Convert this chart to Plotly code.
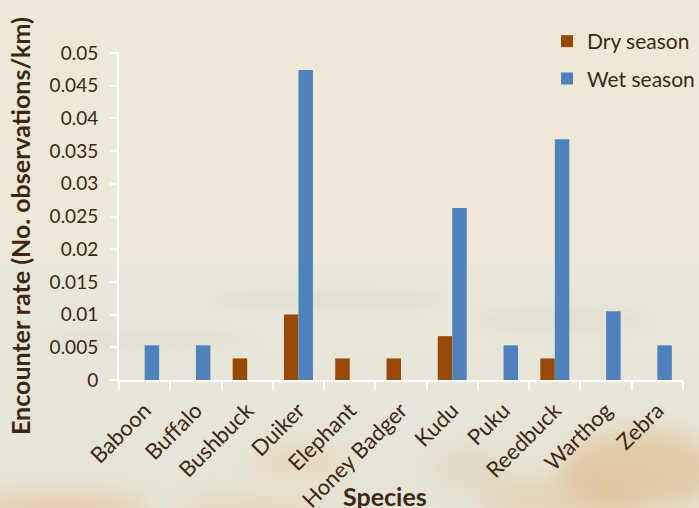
import base64
import plotly.graph_objects as go

species = ["Baboon", "Buffalo", "Bushbuck", "Duiker", "Elephant", "Honey Badger",
           "Kudu", "Puku", "Reedbuck", "Warthog", "Zebra"]
dry_season = [0, 0, 0.0033, 0.01, 0.0033, 0.0033, 0.0067, 0, 0.0033, 0, 0]
wet_season = [0.0053, 0.0053, 0, 0.0474, 0, 0, 0.0263, 0.0053, 0.0368, 0.0105, 0.0053]
y_ticks = [0, 0.005, 0.01, 0.015, 0.02, 0.025, 0.03, 0.035, 0.04, 0.045, 0.05]
y_tick_text = ["0", "0.005", "0.01", "0.015", "0.02", "0.025", "0.03", "0.035",
               "0.04", "0.045", "0.05"]

W, H = 699, 508
ML, MR, MT, MB = 119, 16, 53, 128
PW, PH = W - ML - MR, H - MT - MB

TEXT = "#3d2713"
FONT = "Lato, 'Open Sans', sans-serif"

# Soft photographic backdrop: pale beige sky above, hazy savanna below.
svg = f"""<svg xmlns='http://www.w3.org/2000/svg' width='{W}' height='{H}' viewBox='0 0 {W} {H}'>
<defs>
<filter id='b' x='-50%' y='-50%' width='200%' height='200%'><feGaussianBlur stdDeviation='12'/></filter>
<filter id='b2' x='-50%' y='-50%' width='200%' height='200%'><feGaussianBlur stdDeviation='6'/></filter>
<linearGradient id='g' x1='0' y1='0' x2='0' y2='1'>
<stop offset='0' stop-color='#e9e7da'/><stop offset='1' stop-color='#e6e4d6'/>
</linearGradient>
</defs>
<rect x='0' y='0' width='{W}' height='{H}' fill='#eee9d7'/>
<rect x='0' y='264' width='{W}' height='{H - 264}' fill='url(#g)'/>
<g filter='url(#b2)' opacity='0.5'>
<ellipse cx='330' cy='300' rx='120' ry='10' fill='#dcdacb'/>
<ellipse cx='560' cy='320' rx='90' ry='12' fill='#dddacb'/>
<ellipse cx='150' cy='340' rx='100' ry='10' fill='#dfdccd'/>
</g>
<g filter='url(#b)'>
<ellipse cx='300' cy='462' rx='50' ry='12' fill='#e8b77a' opacity='0.4'/>
<ellipse cx='640' cy='470' rx='80' ry='40' fill='#d9a462' opacity='0.4'/>
<ellipse cx='560' cy='500' rx='80' ry='22' fill='#e0b27a' opacity='0.35'/>
<ellipse cx='60' cy='510' rx='90' ry='14' fill='#e3a868' opacity='0.45'/>
<ellipse cx='250' cy='508' rx='80' ry='10' fill='#e8b37a' opacity='0.35'/>
<ellipse cx='470' cy='470' rx='40' ry='20' fill='#d6c4a0' opacity='0.35'/>
</g>
</svg>"""
bg_uri = "data:image/svg+xml;base64," + base64.b64encode(svg.encode()).decode()

fig = go.Figure()
fig.add_trace(go.Bar(x=species, y=dry_season, name="Dry season",
                     marker=dict(color="#984807", line=dict(width=0)),
                     legendgroup="dry"))
fig.add_trace(go.Bar(x=species, y=wet_season, name="Wet season",
                     marker=dict(color="#4f81bd", line=dict(width=0)),
                     legendgroup="wet"))

fig.update_layout(
    width=W, height=H,
    margin=dict(l=ML, r=MR, t=MT, b=MB, pad=0, autoexpand=False),
    paper_bgcolor="#eee9d7",
    plot_bgcolor="rgba(0,0,0,0)",
    barmode="group", bargap=0.435, bargroupgap=0,
    font=dict(family=FONT, color=TEXT, size=19),
    showlegend=True,
    legend=dict(x=(547 - ML) / PW, y=1 + (MT - 21) / PH, xanchor="left", yanchor="top",
                bgcolor="rgba(0,0,0,0)", font=dict(size=21, color=TEXT),
                tracegroupgap=7, itemwidth=30),
    images=[dict(source=bg_uri, xref="paper", yref="paper",
                 x=-ML / PW, y=1 + MT / PH, sizex=W / PW, sizey=H / PH,
                 xanchor="left", yanchor="top", sizing="stretch", layer="below")],
    xaxis=dict(showgrid=False, showline=True, linecolor="white", linewidth=2,
               ticks="outside", tickcolor="white", ticklen=8, tickwidth=2,
               tickson="boundaries", tickangle=-45, ticklabelstandoff=7,
               automargin=False,
               tickfont=dict(size=22, color=TEXT), zeroline=False),
    yaxis=dict(range=[0, 0.05], tickvals=y_ticks, ticktext=y_tick_text,
               showgrid=False, showline=True, linecolor="white", linewidth=2,
               ticks="outside", tickcolor="white", ticklen=7, tickwidth=2,
               ticklabelstandoff=8, automargin=False,
               tickfont=dict(size=19, color=TEXT), zeroline=False),
    annotations=[
        dict(text="<b>Encounter rate (No. observations/km)</b>", textangle=-90,
             xref="paper", yref="paper", x=(20 - ML) / PW, y=1 - (226 - MT) / PH,
             xanchor="center", yanchor="middle", showarrow=False,
             font=dict(size=25, color=TEXT)),
        dict(text="<b>Species</b>", xref="paper", yref="paper",
             x=(385 - ML) / PW, y=-(496 - MT - PH) / PH,
             xanchor="center", yanchor="middle", showarrow=False,
             font=dict(size=25, color=TEXT)),
    ],
)

fig.write_html("out.html")
